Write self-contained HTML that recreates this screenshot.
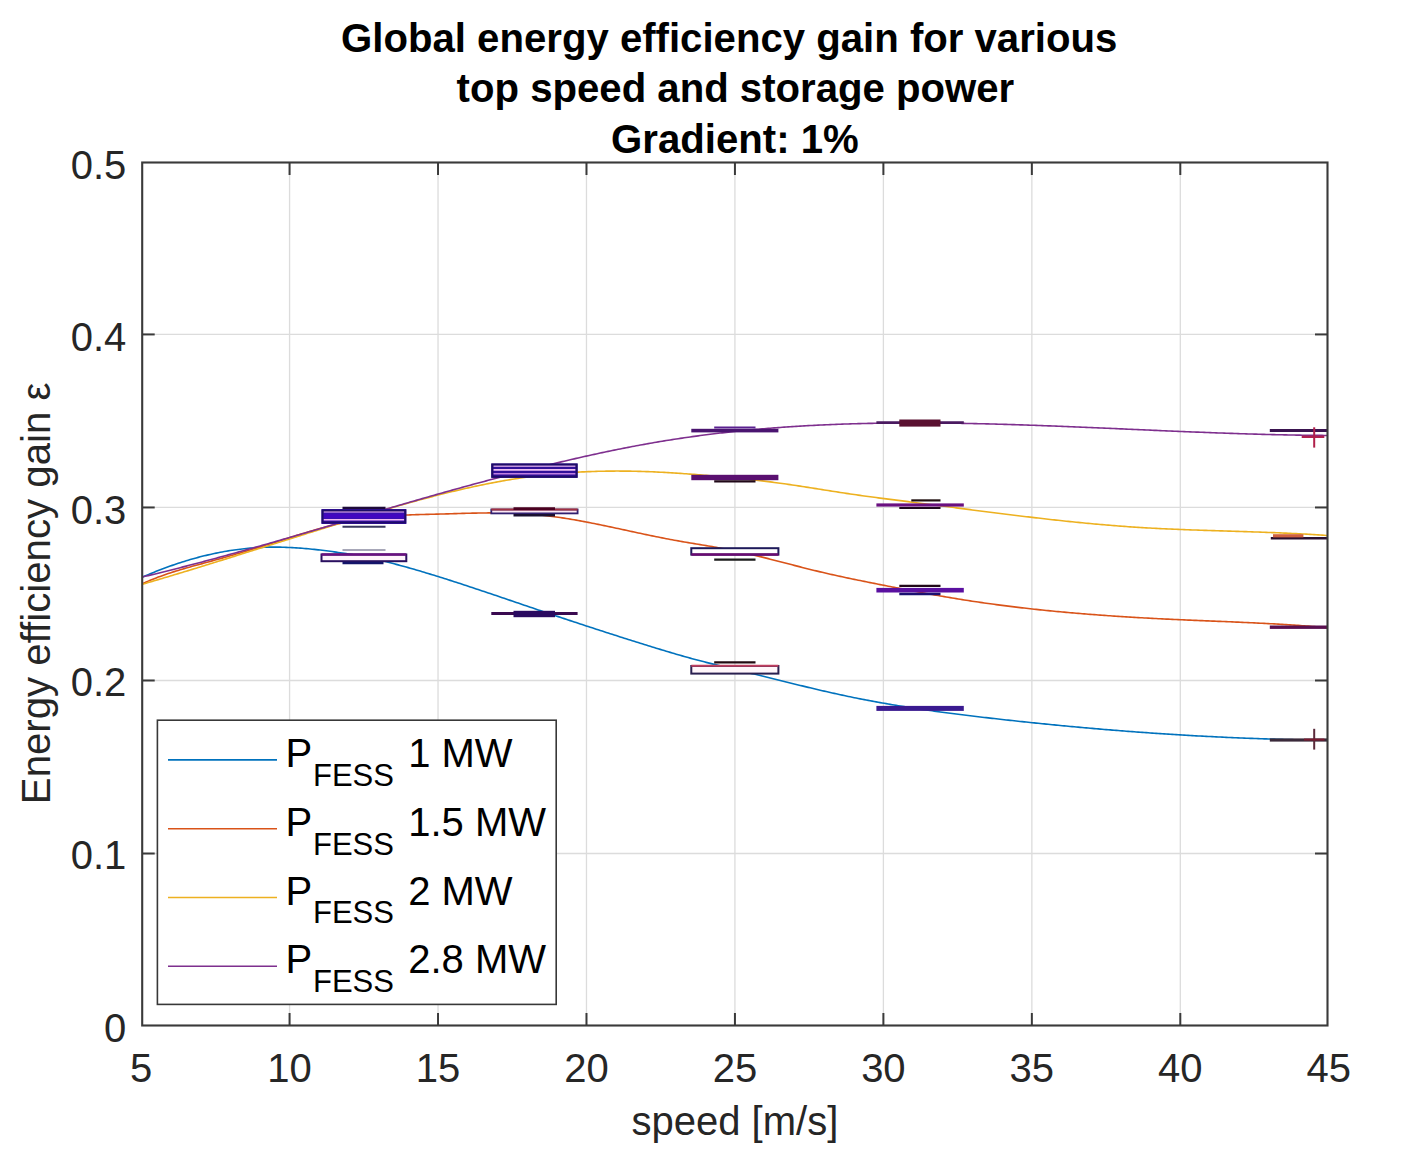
<!DOCTYPE html>
<html><head><meta charset="utf-8"><title>Global energy efficiency gain</title>
<style>html,body{margin:0;padding:0;background:#fff;width:1418px;height:1155px;overflow:hidden;position:relative}</style>
</head><body>
<svg width="1418" height="1155" viewBox="0 0 1418 1155" style="position:absolute;left:0;top:0"><rect x="0" y="0" width="1418" height="1155" fill="#ffffff"/><g stroke="#dcdcdc" stroke-width="1.3"><line x1="289.57" y1="162.50" x2="289.57" y2="1025.50"/><line x1="438.03" y1="162.50" x2="438.03" y2="1025.50"/><line x1="586.48" y1="162.50" x2="586.48" y2="1025.50"/><line x1="734.93" y1="162.50" x2="734.93" y2="1025.50"/><line x1="883.39" y1="162.50" x2="883.39" y2="1025.50"/><line x1="1031.85" y1="162.50" x2="1031.85" y2="1025.50"/><line x1="1180.30" y1="162.50" x2="1180.30" y2="1025.50"/><line x1="142.20" y1="853.52" x2="1327.50" y2="853.52"/><line x1="142.20" y1="680.49" x2="1327.50" y2="680.49"/><line x1="142.20" y1="507.46" x2="1327.50" y2="507.46"/><line x1="142.20" y1="334.43" x2="1327.50" y2="334.43"/></g><g fill="none" stroke-width="1.6" stroke-linejoin="round"><path d="M142.2,577.21 L144.2,576.34 L146.2,575.48 L148.2,574.63 L150.2,573.79 L152.2,572.97 L154.2,572.15 L156.2,571.35 L158.2,570.56 L160.2,569.79 L162.2,569.02 L164.2,568.27 L166.2,567.53 L168.2,566.80 L170.2,566.08 L172.2,565.38 L174.2,564.69 L176.2,564.01 L178.2,563.34 L180.2,562.69 L182.2,562.04 L184.2,561.41 L186.2,560.80 L188.2,560.19 L190.2,559.60 L192.2,559.03 L194.2,558.46 L196.2,557.91 L198.2,557.37 L200.2,556.84 L202.2,556.33 L204.2,555.83 L206.2,555.35 L208.2,554.87 L210.2,554.41 L212.2,553.97 L214.2,553.54 L216.2,553.12 L218.2,552.71 L220.2,552.32 L222.2,551.94 L224.2,551.58 L226.2,551.23 L228.2,550.89 L230.2,550.57 L232.2,550.26 L234.2,549.97 L236.2,549.68 L238.2,549.42 L240.2,549.17 L242.2,548.93 L244.2,548.71 L246.2,548.50 L248.2,548.30 L250.2,548.12 L252.2,547.96 L254.2,547.81 L256.2,547.67 L258.2,547.55 L260.2,547.44 L262.2,547.35 L264.2,547.27 L266.2,547.21 L268.2,547.16 L270.2,547.13 L272.2,547.11 L274.2,547.11 L276.2,547.12 L278.2,547.14 L280.2,547.17 L282.2,547.22 L284.2,547.28 L286.2,547.35 L288.2,547.43 L290.2,547.52 L292.2,547.63 L294.2,547.74 L296.2,547.87 L298.2,548.00 L300.2,548.15 L302.2,548.31 L304.2,548.47 L306.2,548.64 L308.2,548.82 L310.2,549.01 L312.2,549.21 L314.2,549.42 L316.2,549.63 L318.2,549.85 L320.2,550.08 L322.2,550.31 L324.2,550.55 L326.2,550.80 L328.2,551.05 L330.2,551.31 L332.2,551.58 L334.2,551.85 L336.2,552.13 L338.2,552.42 L340.2,552.71 L342.2,553.02 L344.2,553.33 L346.2,553.64 L348.2,553.97 L350.2,554.30 L352.2,554.65 L354.2,555.00 L356.2,555.36 L358.2,555.73 L360.2,556.10 L362.2,556.49 L364.2,556.89 L366.2,557.29 L368.2,557.71 L370.2,558.13 L372.2,558.56 L374.2,559.00 L376.2,559.45 L378.2,559.91 L380.2,560.37 L382.2,560.85 L384.2,561.33 L386.2,561.81 L388.2,562.31 L390.2,562.81 L392.2,563.32 L394.2,563.84 L396.2,564.36 L398.2,564.89 L400.2,565.43 L402.2,565.97 L404.2,566.52 L406.2,567.08 L408.2,567.64 L410.2,568.20 L412.2,568.77 L414.2,569.35 L416.2,569.93 L418.2,570.51 L420.2,571.10 L422.2,571.70 L424.2,572.29 L426.2,572.90 L428.2,573.50 L430.2,574.11 L432.2,574.73 L434.2,575.34 L436.2,575.96 L438.2,576.58 L440.2,577.21 L442.2,577.84 L444.2,578.47 L446.2,579.10 L448.2,579.74 L450.2,580.38 L452.2,581.02 L454.2,581.67 L456.2,582.31 L458.2,582.96 L460.2,583.61 L462.2,584.26 L464.2,584.92 L466.2,585.58 L468.2,586.24 L470.2,586.90 L472.2,587.56 L474.2,588.22 L476.2,588.89 L478.2,589.56 L480.2,590.22 L482.2,590.89 L484.2,591.56 L486.2,592.24 L488.2,592.91 L490.2,593.59 L492.2,594.26 L494.2,594.94 L496.2,595.61 L498.2,596.29 L500.2,596.97 L502.2,597.65 L504.2,598.33 L506.2,599.01 L508.2,599.69 L510.2,600.37 L512.2,601.05 L514.2,601.74 L516.2,602.42 L518.2,603.10 L520.2,603.78 L522.2,604.46 L524.2,605.14 L526.2,605.82 L528.2,606.50 L530.2,607.18 L532.2,607.86 L534.2,608.54 L536.2,609.22 L538.2,609.90 L540.2,610.57 L542.2,611.25 L544.2,611.93 L546.2,612.60 L548.2,613.27 L550.2,613.95 L552.2,614.62 L554.2,615.29 L556.2,615.96 L558.2,616.63 L560.2,617.30 L562.2,617.96 L564.2,618.63 L566.2,619.30 L568.2,619.96 L570.2,620.63 L572.2,621.29 L574.2,621.95 L576.2,622.61 L578.2,623.27 L580.2,623.93 L582.2,624.59 L584.2,625.25 L586.2,625.90 L588.2,626.56 L590.2,627.21 L592.2,627.86 L594.2,628.52 L596.2,629.17 L598.2,629.82 L600.2,630.46 L602.2,631.11 L604.2,631.76 L606.2,632.40 L608.2,633.05 L610.2,633.69 L612.2,634.33 L614.2,634.97 L616.2,635.61 L618.2,636.25 L620.2,636.89 L622.2,637.53 L624.2,638.16 L626.2,638.79 L628.2,639.43 L630.2,640.06 L632.2,640.69 L634.2,641.32 L636.2,641.94 L638.2,642.57 L640.2,643.20 L642.2,643.82 L644.2,644.44 L646.2,645.06 L648.2,645.68 L650.2,646.30 L652.2,646.92 L654.2,647.53 L656.2,648.15 L658.2,648.76 L660.2,649.37 L662.2,649.98 L664.2,650.58 L666.2,651.18 L668.2,651.78 L670.2,652.38 L672.2,652.97 L674.2,653.56 L676.2,654.15 L678.2,654.73 L680.2,655.31 L682.2,655.88 L684.2,656.45 L686.2,657.01 L688.2,657.57 L690.2,658.13 L692.2,658.68 L694.2,659.22 L696.2,659.76 L698.2,660.29 L700.2,660.81 L702.2,661.33 L704.2,661.85 L706.2,662.36 L708.2,662.87 L710.2,663.38 L712.2,663.88 L714.2,664.38 L716.2,664.87 L718.2,665.36 L720.2,665.85 L722.2,666.34 L724.2,666.83 L726.2,667.31 L728.2,667.80 L730.2,668.28 L732.2,668.77 L734.2,669.25 L736.2,669.73 L738.2,670.21 L740.2,670.70 L742.2,671.18 L744.2,671.66 L746.2,672.15 L748.2,672.63 L750.2,673.12 L752.2,673.61 L754.2,674.09 L756.2,674.58 L758.2,675.07 L760.2,675.56 L762.2,676.05 L764.2,676.54 L766.2,677.03 L768.2,677.53 L770.2,678.02 L772.2,678.51 L774.2,679.01 L776.2,679.50 L778.2,680.00 L780.2,680.49 L782.2,680.99 L784.2,681.48 L786.2,681.98 L788.2,682.47 L790.2,682.96 L792.2,683.46 L794.2,683.95 L796.2,684.44 L798.2,684.93 L800.2,685.42 L802.2,685.90 L804.2,686.39 L806.2,686.87 L808.2,687.35 L810.2,687.83 L812.2,688.31 L814.2,688.79 L816.2,689.26 L818.2,689.73 L820.2,690.20 L822.2,690.66 L824.2,691.13 L826.2,691.59 L828.2,692.04 L830.2,692.50 L832.2,692.95 L834.2,693.40 L836.2,693.84 L838.2,694.28 L840.2,694.72 L842.2,695.15 L844.2,695.58 L846.2,696.00 L848.2,696.42 L850.2,696.84 L852.2,697.25 L854.2,697.66 L856.2,698.06 L858.2,698.46 L860.2,698.86 L862.2,699.25 L864.2,699.64 L866.2,700.02 L868.2,700.40 L870.2,700.78 L872.2,701.15 L874.2,701.52 L876.2,701.89 L878.2,702.25 L880.2,702.61 L882.2,702.96 L884.2,703.31 L886.2,703.66 L888.2,704.00 L890.2,704.34 L892.2,704.68 L894.2,705.02 L896.2,705.35 L898.2,705.68 L900.2,706.00 L902.2,706.32 L904.2,706.64 L906.2,706.96 L908.2,707.27 L910.2,707.58 L912.2,707.89 L914.2,708.20 L916.2,708.50 L918.2,708.80 L920.2,709.09 L922.2,709.39 L924.2,709.68 L926.2,709.97 L928.2,710.25 L930.2,710.54 L932.2,710.82 L934.2,711.10 L936.2,711.37 L938.2,711.65 L940.2,711.92 L942.2,712.19 L944.2,712.46 L946.2,712.72 L948.2,712.99 L950.2,713.25 L952.2,713.51 L954.2,713.76 L956.2,714.02 L958.2,714.27 L960.2,714.53 L962.2,714.78 L964.2,715.02 L966.2,715.27 L968.2,715.52 L970.2,715.76 L972.2,716.00 L974.2,716.24 L976.2,716.48 L978.2,716.72 L980.2,716.95 L982.2,717.19 L984.2,717.42 L986.2,717.65 L988.2,717.89 L990.2,718.12 L992.2,718.34 L994.2,718.57 L996.2,718.80 L998.2,719.02 L1000.2,719.25 L1002.2,719.47 L1004.2,719.69 L1006.2,719.92 L1008.2,720.14 L1010.2,720.36 L1012.2,720.57 L1014.2,720.79 L1016.2,721.01 L1018.2,721.22 L1020.2,721.44 L1022.2,721.65 L1024.2,721.86 L1026.2,722.07 L1028.2,722.28 L1030.2,722.49 L1032.2,722.70 L1034.2,722.90 L1036.2,723.11 L1038.2,723.31 L1040.2,723.52 L1042.2,723.72 L1044.2,723.92 L1046.2,724.12 L1048.2,724.32 L1050.2,724.52 L1052.2,724.71 L1054.2,724.91 L1056.2,725.10 L1058.2,725.30 L1060.2,725.49 L1062.2,725.68 L1064.2,725.87 L1066.2,726.06 L1068.2,726.25 L1070.2,726.43 L1072.2,726.62 L1074.2,726.80 L1076.2,726.98 L1078.2,727.17 L1080.2,727.35 L1082.2,727.53 L1084.2,727.71 L1086.2,727.88 L1088.2,728.06 L1090.2,728.24 L1092.2,728.41 L1094.2,728.58 L1096.2,728.75 L1098.2,728.92 L1100.2,729.09 L1102.2,729.26 L1104.2,729.43 L1106.2,729.60 L1108.2,729.76 L1110.2,729.92 L1112.2,730.09 L1114.2,730.25 L1116.2,730.41 L1118.2,730.57 L1120.2,730.72 L1122.2,730.88 L1124.2,731.04 L1126.2,731.19 L1128.2,731.34 L1130.2,731.50 L1132.2,731.65 L1134.2,731.80 L1136.2,731.94 L1138.2,732.09 L1140.2,732.24 L1142.2,732.38 L1144.2,732.53 L1146.2,732.67 L1148.2,732.81 L1150.2,732.95 L1152.2,733.09 L1154.2,733.22 L1156.2,733.36 L1158.2,733.50 L1160.2,733.63 L1162.2,733.76 L1164.2,733.89 L1166.2,734.02 L1168.2,734.15 L1170.2,734.28 L1172.2,734.41 L1174.2,734.53 L1176.2,734.66 L1178.2,734.78 L1180.2,734.90 L1182.2,735.02 L1184.2,735.14 L1186.2,735.26 L1188.2,735.37 L1190.2,735.49 L1192.2,735.60 L1194.2,735.71 L1196.2,735.83 L1198.2,735.94 L1200.2,736.05 L1202.2,736.15 L1204.2,736.26 L1206.2,736.36 L1208.2,736.47 L1210.2,736.57 L1212.2,736.67 L1214.2,736.77 L1216.2,736.87 L1218.2,736.97 L1220.2,737.06 L1222.2,737.16 L1224.2,737.25 L1226.2,737.34 L1228.2,737.44 L1230.2,737.52 L1232.2,737.61 L1234.2,737.70 L1236.2,737.79 L1238.2,737.87 L1240.2,737.95 L1242.2,738.03 L1244.2,738.12 L1246.2,738.19 L1248.2,738.27 L1250.2,738.35 L1252.2,738.42 L1254.2,738.50 L1256.2,738.57 L1258.2,738.64 L1260.2,738.71 L1262.2,738.78 L1264.2,738.85 L1266.2,738.91 L1268.2,738.98 L1270.2,739.04 L1272.2,739.10 L1274.2,739.16 L1276.2,739.22 L1278.2,739.28 L1280.2,739.34 L1282.2,739.39 L1284.2,739.44 L1286.2,739.50 L1288.2,739.55 L1290.2,739.60 L1292.2,739.65 L1294.2,739.69 L1296.2,739.74 L1298.2,739.78 L1300.2,739.82 L1302.2,739.87 L1304.2,739.91 L1306.2,739.94 L1308.2,739.98 L1310.2,740.02 L1312.2,740.05 L1314.2,740.09 L1316.2,740.12 L1318.2,740.15 L1320.2,740.18 L1322.2,740.20 L1324.2,740.23 L1326.2,740.25 L1327.5,740.27" stroke="#0072BD"/><path d="M142.2,583.79 L144.2,582.88 L146.2,581.99 L148.2,581.13 L150.2,580.28 L152.2,579.46 L154.2,578.66 L156.2,577.88 L158.2,577.12 L160.2,576.38 L162.2,575.66 L164.2,574.95 L166.2,574.26 L168.2,573.58 L170.2,572.92 L172.2,572.27 L174.2,571.63 L176.2,571.01 L178.2,570.39 L180.2,569.79 L182.2,569.20 L184.2,568.61 L186.2,568.04 L188.2,567.47 L190.2,566.90 L192.2,566.35 L194.2,565.79 L196.2,565.24 L198.2,564.70 L200.2,564.15 L202.2,563.61 L204.2,563.07 L206.2,562.52 L208.2,561.98 L210.2,561.44 L212.2,560.89 L214.2,560.34 L216.2,559.78 L218.2,559.23 L220.2,558.67 L222.2,558.11 L224.2,557.54 L226.2,556.98 L228.2,556.41 L230.2,555.84 L232.2,555.26 L234.2,554.68 L236.2,554.10 L238.2,553.52 L240.2,552.93 L242.2,552.34 L244.2,551.75 L246.2,551.16 L248.2,550.56 L250.2,549.96 L252.2,549.35 L254.2,548.75 L256.2,548.14 L258.2,547.53 L260.2,546.91 L262.2,546.30 L264.2,545.68 L266.2,545.05 L268.2,544.43 L270.2,543.80 L272.2,543.17 L274.2,542.54 L276.2,541.91 L278.2,541.28 L280.2,540.64 L282.2,540.01 L284.2,539.38 L286.2,538.75 L288.2,538.12 L290.2,537.49 L292.2,536.86 L294.2,536.24 L296.2,535.62 L298.2,535.00 L300.2,534.39 L302.2,533.78 L304.2,533.17 L306.2,532.57 L308.2,531.97 L310.2,531.38 L312.2,530.79 L314.2,530.21 L316.2,529.64 L318.2,529.07 L320.2,528.51 L322.2,527.95 L324.2,527.41 L326.2,526.87 L328.2,526.34 L330.2,525.82 L332.2,525.31 L334.2,524.81 L336.2,524.32 L338.2,523.84 L340.2,523.37 L342.2,522.91 L344.2,522.47 L346.2,522.03 L348.2,521.61 L350.2,521.20 L352.2,520.80 L354.2,520.42 L356.2,520.05 L358.2,519.69 L360.2,519.35 L362.2,519.02 L364.2,518.71 L366.2,518.41 L368.2,518.13 L370.2,517.87 L372.2,517.61 L374.2,517.37 L376.2,517.15 L378.2,516.93 L380.2,516.73 L382.2,516.54 L384.2,516.36 L386.2,516.20 L388.2,516.04 L390.2,515.89 L392.2,515.75 L394.2,515.62 L396.2,515.50 L398.2,515.39 L400.2,515.28 L402.2,515.19 L404.2,515.09 L406.2,515.01 L408.2,514.93 L410.2,514.86 L412.2,514.79 L414.2,514.72 L416.2,514.66 L418.2,514.60 L420.2,514.54 L422.2,514.49 L424.2,514.44 L426.2,514.39 L428.2,514.34 L430.2,514.30 L432.2,514.25 L434.2,514.20 L436.2,514.15 L438.2,514.10 L440.2,514.05 L442.2,514.00 L444.2,513.94 L446.2,513.88 L448.2,513.83 L450.2,513.77 L452.2,513.71 L454.2,513.65 L456.2,513.59 L458.2,513.54 L460.2,513.48 L462.2,513.42 L464.2,513.37 L466.2,513.32 L468.2,513.27 L470.2,513.22 L472.2,513.17 L474.2,513.13 L476.2,513.09 L478.2,513.05 L480.2,513.01 L482.2,512.98 L484.2,512.96 L486.2,512.94 L488.2,512.92 L490.2,512.91 L492.2,512.90 L494.2,512.90 L496.2,512.90 L498.2,512.91 L500.2,512.93 L502.2,512.95 L504.2,512.98 L506.2,513.02 L508.2,513.06 L510.2,513.11 L512.2,513.17 L514.2,513.24 L516.2,513.32 L518.2,513.41 L520.2,513.50 L522.2,513.60 L524.2,513.72 L526.2,513.84 L528.2,513.98 L530.2,514.12 L532.2,514.28 L534.2,514.44 L536.2,514.62 L538.2,514.81 L540.2,515.01 L542.2,515.22 L544.2,515.44 L546.2,515.67 L548.2,515.91 L550.2,516.16 L552.2,516.42 L554.2,516.68 L556.2,516.96 L558.2,517.25 L560.2,517.54 L562.2,517.84 L564.2,518.15 L566.2,518.47 L568.2,518.79 L570.2,519.12 L572.2,519.46 L574.2,519.81 L576.2,520.16 L578.2,520.52 L580.2,520.88 L582.2,521.25 L584.2,521.63 L586.2,522.01 L588.2,522.39 L590.2,522.78 L592.2,523.18 L594.2,523.57 L596.2,523.98 L598.2,524.38 L600.2,524.79 L602.2,525.20 L604.2,525.62 L606.2,526.04 L608.2,526.46 L610.2,526.88 L612.2,527.31 L614.2,527.74 L616.2,528.16 L618.2,528.59 L620.2,529.03 L622.2,529.46 L624.2,529.89 L626.2,530.32 L628.2,530.75 L630.2,531.19 L632.2,531.62 L634.2,532.05 L636.2,532.48 L638.2,532.91 L640.2,533.34 L642.2,533.77 L644.2,534.19 L646.2,534.61 L648.2,535.03 L650.2,535.45 L652.2,535.87 L654.2,536.28 L656.2,536.69 L658.2,537.09 L660.2,537.49 L662.2,537.89 L664.2,538.28 L666.2,538.67 L668.2,539.05 L670.2,539.43 L672.2,539.81 L674.2,540.17 L676.2,540.54 L678.2,540.89 L680.2,541.25 L682.2,541.60 L684.2,541.94 L686.2,542.28 L688.2,542.62 L690.2,542.96 L692.2,543.30 L694.2,543.63 L696.2,543.96 L698.2,544.30 L700.2,544.63 L702.2,544.97 L704.2,545.30 L706.2,545.64 L708.2,545.98 L710.2,546.32 L712.2,546.66 L714.2,547.01 L716.2,547.36 L718.2,547.71 L720.2,548.07 L722.2,548.43 L724.2,548.80 L726.2,549.18 L728.2,549.56 L730.2,549.95 L732.2,550.35 L734.2,550.75 L736.2,551.16 L738.2,551.58 L740.2,552.01 L742.2,552.45 L744.2,552.89 L746.2,553.34 L748.2,553.80 L750.2,554.26 L752.2,554.73 L754.2,555.20 L756.2,555.68 L758.2,556.16 L760.2,556.65 L762.2,557.15 L764.2,557.64 L766.2,558.14 L768.2,558.65 L770.2,559.16 L772.2,559.67 L774.2,560.18 L776.2,560.69 L778.2,561.21 L780.2,561.73 L782.2,562.24 L784.2,562.76 L786.2,563.28 L788.2,563.80 L790.2,564.32 L792.2,564.84 L794.2,565.36 L796.2,565.87 L798.2,566.39 L800.2,566.90 L802.2,567.41 L804.2,567.92 L806.2,568.43 L808.2,568.93 L810.2,569.43 L812.2,569.92 L814.2,570.41 L816.2,570.90 L818.2,571.38 L820.2,571.86 L822.2,572.33 L824.2,572.80 L826.2,573.26 L828.2,573.72 L830.2,574.18 L832.2,574.63 L834.2,575.07 L836.2,575.52 L838.2,575.96 L840.2,576.39 L842.2,576.82 L844.2,577.25 L846.2,577.68 L848.2,578.10 L850.2,578.52 L852.2,578.94 L854.2,579.36 L856.2,579.77 L858.2,580.18 L860.2,580.59 L862.2,581.00 L864.2,581.40 L866.2,581.80 L868.2,582.21 L870.2,582.61 L872.2,583.00 L874.2,583.40 L876.2,583.80 L878.2,584.20 L880.2,584.59 L882.2,584.99 L884.2,585.38 L886.2,585.77 L888.2,586.17 L890.2,586.56 L892.2,586.95 L894.2,587.34 L896.2,587.73 L898.2,588.12 L900.2,588.51 L902.2,588.89 L904.2,589.28 L906.2,589.66 L908.2,590.05 L910.2,590.43 L912.2,590.81 L914.2,591.18 L916.2,591.56 L918.2,591.94 L920.2,592.31 L922.2,592.68 L924.2,593.05 L926.2,593.42 L928.2,593.79 L930.2,594.15 L932.2,594.51 L934.2,594.87 L936.2,595.23 L938.2,595.58 L940.2,595.93 L942.2,596.28 L944.2,596.63 L946.2,596.97 L948.2,597.31 L950.2,597.65 L952.2,597.99 L954.2,598.32 L956.2,598.65 L958.2,598.98 L960.2,599.30 L962.2,599.62 L964.2,599.94 L966.2,600.25 L968.2,600.57 L970.2,600.87 L972.2,601.18 L974.2,601.48 L976.2,601.78 L978.2,602.07 L980.2,602.37 L982.2,602.66 L984.2,602.94 L986.2,603.23 L988.2,603.51 L990.2,603.78 L992.2,604.06 L994.2,604.33 L996.2,604.60 L998.2,604.86 L1000.2,605.13 L1002.2,605.39 L1004.2,605.65 L1006.2,605.90 L1008.2,606.15 L1010.2,606.40 L1012.2,606.65 L1014.2,606.89 L1016.2,607.13 L1018.2,607.37 L1020.2,607.61 L1022.2,607.84 L1024.2,608.07 L1026.2,608.30 L1028.2,608.53 L1030.2,608.75 L1032.2,608.97 L1034.2,609.19 L1036.2,609.40 L1038.2,609.62 L1040.2,609.83 L1042.2,610.03 L1044.2,610.24 L1046.2,610.44 L1048.2,610.64 L1050.2,610.84 L1052.2,611.04 L1054.2,611.23 L1056.2,611.43 L1058.2,611.62 L1060.2,611.80 L1062.2,611.99 L1064.2,612.17 L1066.2,612.35 L1068.2,612.53 L1070.2,612.71 L1072.2,612.88 L1074.2,613.06 L1076.2,613.23 L1078.2,613.39 L1080.2,613.56 L1082.2,613.72 L1084.2,613.89 L1086.2,614.05 L1088.2,614.21 L1090.2,614.36 L1092.2,614.52 L1094.2,614.67 L1096.2,614.82 L1098.2,614.97 L1100.2,615.12 L1102.2,615.26 L1104.2,615.40 L1106.2,615.55 L1108.2,615.69 L1110.2,615.82 L1112.2,615.96 L1114.2,616.10 L1116.2,616.23 L1118.2,616.36 L1120.2,616.49 L1122.2,616.62 L1124.2,616.75 L1126.2,616.87 L1128.2,616.99 L1130.2,617.12 L1132.2,617.24 L1134.2,617.36 L1136.2,617.47 L1138.2,617.59 L1140.2,617.71 L1142.2,617.82 L1144.2,617.93 L1146.2,618.04 L1148.2,618.15 L1150.2,618.26 L1152.2,618.36 L1154.2,618.47 L1156.2,618.57 L1158.2,618.68 L1160.2,618.78 L1162.2,618.88 L1164.2,618.98 L1166.2,619.08 L1168.2,619.17 L1170.2,619.27 L1172.2,619.36 L1174.2,619.46 L1176.2,619.55 L1178.2,619.64 L1180.2,619.73 L1182.2,619.82 L1184.2,619.91 L1186.2,620.00 L1188.2,620.08 L1190.2,620.17 L1192.2,620.26 L1194.2,620.34 L1196.2,620.42 L1198.2,620.51 L1200.2,620.59 L1202.2,620.67 L1204.2,620.76 L1206.2,620.84 L1208.2,620.92 L1210.2,621.00 L1212.2,621.08 L1214.2,621.16 L1216.2,621.25 L1218.2,621.33 L1220.2,621.41 L1222.2,621.49 L1224.2,621.57 L1226.2,621.66 L1228.2,621.74 L1230.2,621.82 L1232.2,621.91 L1234.2,621.99 L1236.2,622.08 L1238.2,622.16 L1240.2,622.25 L1242.2,622.34 L1244.2,622.43 L1246.2,622.52 L1248.2,622.61 L1250.2,622.70 L1252.2,622.79 L1254.2,622.89 L1256.2,622.98 L1258.2,623.08 L1260.2,623.18 L1262.2,623.28 L1264.2,623.38 L1266.2,623.48 L1268.2,623.59 L1270.2,623.69 L1272.2,623.80 L1274.2,623.91 L1276.2,624.03 L1278.2,624.14 L1280.2,624.26 L1282.2,624.37 L1284.2,624.50 L1286.2,624.62 L1288.2,624.74 L1290.2,624.87 L1292.2,625.00 L1294.2,625.13 L1296.2,625.27 L1298.2,625.41 L1300.2,625.55 L1302.2,625.69 L1304.2,625.84 L1306.2,625.99 L1308.2,626.14 L1310.2,626.29 L1312.2,626.45 L1314.2,626.61 L1316.2,626.78 L1318.2,626.94 L1320.2,627.12 L1322.2,627.29 L1324.2,627.47 L1326.2,627.65 L1327.5,627.77" stroke="#D95319"/><path d="M142.2,584.31 L144.2,583.73 L146.2,583.15 L148.2,582.56 L150.2,581.98 L152.2,581.39 L154.2,580.80 L156.2,580.21 L158.2,579.62 L160.2,579.03 L162.2,578.44 L164.2,577.84 L166.2,577.25 L168.2,576.65 L170.2,576.05 L172.2,575.45 L174.2,574.85 L176.2,574.24 L178.2,573.64 L180.2,573.04 L182.2,572.43 L184.2,571.82 L186.2,571.22 L188.2,570.61 L190.2,570.00 L192.2,569.38 L194.2,568.77 L196.2,568.16 L198.2,567.55 L200.2,566.93 L202.2,566.32 L204.2,565.70 L206.2,565.08 L208.2,564.46 L210.2,563.84 L212.2,563.22 L214.2,562.60 L216.2,561.98 L218.2,561.36 L220.2,560.74 L222.2,560.12 L224.2,559.49 L226.2,558.87 L228.2,558.24 L230.2,557.62 L232.2,556.99 L234.2,556.37 L236.2,555.74 L238.2,555.11 L240.2,554.49 L242.2,553.86 L244.2,553.23 L246.2,552.60 L248.2,551.98 L250.2,551.35 L252.2,550.72 L254.2,550.09 L256.2,549.46 L258.2,548.83 L260.2,548.20 L262.2,547.57 L264.2,546.94 L266.2,546.31 L268.2,545.68 L270.2,545.05 L272.2,544.42 L274.2,543.79 L276.2,543.16 L278.2,542.53 L280.2,541.90 L282.2,541.27 L284.2,540.64 L286.2,540.01 L288.2,539.38 L290.2,538.76 L292.2,538.13 L294.2,537.50 L296.2,536.87 L298.2,536.24 L300.2,535.62 L302.2,534.99 L304.2,534.37 L306.2,533.74 L308.2,533.11 L310.2,532.49 L312.2,531.87 L314.2,531.24 L316.2,530.62 L318.2,530.00 L320.2,529.37 L322.2,528.75 L324.2,528.13 L326.2,527.51 L328.2,526.89 L330.2,526.28 L332.2,525.66 L334.2,525.04 L336.2,524.42 L338.2,523.81 L340.2,523.20 L342.2,522.58 L344.2,521.97 L346.2,521.36 L348.2,520.75 L350.2,520.14 L352.2,519.53 L354.2,518.92 L356.2,518.32 L358.2,517.71 L360.2,517.11 L362.2,516.50 L364.2,515.90 L366.2,515.30 L368.2,514.70 L370.2,514.10 L372.2,513.51 L374.2,512.91 L376.2,512.32 L378.2,511.73 L380.2,511.14 L382.2,510.55 L384.2,509.96 L386.2,509.38 L388.2,508.80 L390.2,508.21 L392.2,507.64 L394.2,507.06 L396.2,506.49 L398.2,505.91 L400.2,505.34 L402.2,504.78 L404.2,504.21 L406.2,503.65 L408.2,503.09 L410.2,502.53 L412.2,501.98 L414.2,501.43 L416.2,500.88 L418.2,500.33 L420.2,499.79 L422.2,499.25 L424.2,498.72 L426.2,498.18 L428.2,497.65 L430.2,497.13 L432.2,496.61 L434.2,496.09 L436.2,495.57 L438.2,495.06 L440.2,494.55 L442.2,494.05 L444.2,493.55 L446.2,493.05 L448.2,492.56 L450.2,492.07 L452.2,491.58 L454.2,491.10 L456.2,490.63 L458.2,490.16 L460.2,489.69 L462.2,489.23 L464.2,488.77 L466.2,488.31 L468.2,487.86 L470.2,487.42 L472.2,486.98 L474.2,486.55 L476.2,486.12 L478.2,485.69 L480.2,485.27 L482.2,484.86 L484.2,484.45 L486.2,484.04 L488.2,483.65 L490.2,483.25 L492.2,482.86 L494.2,482.48 L496.2,482.11 L498.2,481.73 L500.2,481.37 L502.2,481.01 L504.2,480.66 L506.2,480.31 L508.2,479.97 L510.2,479.63 L512.2,479.30 L514.2,478.98 L516.2,478.66 L518.2,478.35 L520.2,478.05 L522.2,477.75 L524.2,477.46 L526.2,477.17 L528.2,476.90 L530.2,476.63 L532.2,476.36 L534.2,476.11 L536.2,475.85 L538.2,475.61 L540.2,475.38 L542.2,475.15 L544.2,474.92 L546.2,474.71 L548.2,474.50 L550.2,474.29 L552.2,474.10 L554.2,473.91 L556.2,473.73 L558.2,473.55 L560.2,473.38 L562.2,473.22 L564.2,473.06 L566.2,472.91 L568.2,472.76 L570.2,472.62 L572.2,472.49 L574.2,472.37 L576.2,472.25 L578.2,472.13 L580.2,472.03 L582.2,471.92 L584.2,471.83 L586.2,471.74 L588.2,471.65 L590.2,471.58 L592.2,471.50 L594.2,471.44 L596.2,471.38 L598.2,471.32 L600.2,471.27 L602.2,471.23 L604.2,471.19 L606.2,471.16 L608.2,471.13 L610.2,471.11 L612.2,471.09 L614.2,471.08 L616.2,471.07 L618.2,471.07 L620.2,471.08 L622.2,471.09 L624.2,471.10 L626.2,471.12 L628.2,471.14 L630.2,471.17 L632.2,471.21 L634.2,471.25 L636.2,471.29 L638.2,471.34 L640.2,471.40 L642.2,471.46 L644.2,471.52 L646.2,471.59 L648.2,471.66 L650.2,471.74 L652.2,471.82 L654.2,471.91 L656.2,472.00 L658.2,472.09 L660.2,472.19 L662.2,472.30 L664.2,472.40 L666.2,472.52 L668.2,472.63 L670.2,472.75 L672.2,472.88 L674.2,473.00 L676.2,473.13 L678.2,473.26 L680.2,473.40 L682.2,473.54 L684.2,473.68 L686.2,473.82 L688.2,473.97 L690.2,474.11 L692.2,474.26 L694.2,474.41 L696.2,474.57 L698.2,474.72 L700.2,474.88 L702.2,475.03 L704.2,475.19 L706.2,475.35 L708.2,475.52 L710.2,475.68 L712.2,475.85 L714.2,476.02 L716.2,476.19 L718.2,476.37 L720.2,476.55 L722.2,476.73 L724.2,476.91 L726.2,477.09 L728.2,477.28 L730.2,477.47 L732.2,477.66 L734.2,477.86 L736.2,478.05 L738.2,478.26 L740.2,478.46 L742.2,478.67 L744.2,478.88 L746.2,479.09 L748.2,479.31 L750.2,479.52 L752.2,479.75 L754.2,479.97 L756.2,480.20 L758.2,480.43 L760.2,480.67 L762.2,480.91 L764.2,481.15 L766.2,481.40 L768.2,481.65 L770.2,481.91 L772.2,482.16 L774.2,482.43 L776.2,482.69 L778.2,482.96 L780.2,483.24 L782.2,483.51 L784.2,483.80 L786.2,484.08 L788.2,484.37 L790.2,484.66 L792.2,484.96 L794.2,485.25 L796.2,485.55 L798.2,485.86 L800.2,486.16 L802.2,486.47 L804.2,486.78 L806.2,487.09 L808.2,487.40 L810.2,487.71 L812.2,488.02 L814.2,488.34 L816.2,488.66 L818.2,488.97 L820.2,489.29 L822.2,489.60 L824.2,489.92 L826.2,490.24 L828.2,490.55 L830.2,490.87 L832.2,491.18 L834.2,491.50 L836.2,491.81 L838.2,492.12 L840.2,492.43 L842.2,492.74 L844.2,493.04 L846.2,493.35 L848.2,493.65 L850.2,493.95 L852.2,494.24 L854.2,494.53 L856.2,494.82 L858.2,495.11 L860.2,495.39 L862.2,495.68 L864.2,495.95 L866.2,496.23 L868.2,496.50 L870.2,496.77 L872.2,497.04 L874.2,497.31 L876.2,497.57 L878.2,497.84 L880.2,498.10 L882.2,498.36 L884.2,498.62 L886.2,498.87 L888.2,499.13 L890.2,499.39 L892.2,499.64 L894.2,499.89 L896.2,500.15 L898.2,500.40 L900.2,500.65 L902.2,500.91 L904.2,501.16 L906.2,501.41 L908.2,501.66 L910.2,501.92 L912.2,502.17 L914.2,502.42 L916.2,502.68 L918.2,502.93 L920.2,503.19 L922.2,503.44 L924.2,503.70 L926.2,503.96 L928.2,504.21 L930.2,504.47 L932.2,504.73 L934.2,504.99 L936.2,505.25 L938.2,505.51 L940.2,505.77 L942.2,506.03 L944.2,506.28 L946.2,506.54 L948.2,506.80 L950.2,507.06 L952.2,507.32 L954.2,507.58 L956.2,507.84 L958.2,508.10 L960.2,508.36 L962.2,508.62 L964.2,508.88 L966.2,509.14 L968.2,509.40 L970.2,509.66 L972.2,509.92 L974.2,510.17 L976.2,510.43 L978.2,510.69 L980.2,510.94 L982.2,511.20 L984.2,511.46 L986.2,511.71 L988.2,511.97 L990.2,512.22 L992.2,512.48 L994.2,512.73 L996.2,512.98 L998.2,513.23 L1000.2,513.48 L1002.2,513.74 L1004.2,513.98 L1006.2,514.23 L1008.2,514.48 L1010.2,514.73 L1012.2,514.98 L1014.2,515.22 L1016.2,515.47 L1018.2,515.71 L1020.2,515.95 L1022.2,516.19 L1024.2,516.43 L1026.2,516.67 L1028.2,516.91 L1030.2,517.15 L1032.2,517.38 L1034.2,517.62 L1036.2,517.85 L1038.2,518.08 L1040.2,518.31 L1042.2,518.54 L1044.2,518.77 L1046.2,519.00 L1048.2,519.22 L1050.2,519.44 L1052.2,519.67 L1054.2,519.89 L1056.2,520.11 L1058.2,520.32 L1060.2,520.54 L1062.2,520.75 L1064.2,520.97 L1066.2,521.18 L1068.2,521.39 L1070.2,521.59 L1072.2,521.80 L1074.2,522.00 L1076.2,522.20 L1078.2,522.40 L1080.2,522.60 L1082.2,522.80 L1084.2,522.99 L1086.2,523.18 L1088.2,523.37 L1090.2,523.56 L1092.2,523.74 L1094.2,523.93 L1096.2,524.11 L1098.2,524.29 L1100.2,524.46 L1102.2,524.64 L1104.2,524.81 L1106.2,524.98 L1108.2,525.15 L1110.2,525.31 L1112.2,525.48 L1114.2,525.64 L1116.2,525.79 L1118.2,525.95 L1120.2,526.10 L1122.2,526.25 L1124.2,526.40 L1126.2,526.55 L1128.2,526.69 L1130.2,526.83 L1132.2,526.96 L1134.2,527.10 L1136.2,527.23 L1138.2,527.36 L1140.2,527.48 L1142.2,527.61 L1144.2,527.73 L1146.2,527.84 L1148.2,527.96 L1150.2,528.07 L1152.2,528.18 L1154.2,528.29 L1156.2,528.39 L1158.2,528.49 L1160.2,528.59 L1162.2,528.69 L1164.2,528.79 L1166.2,528.88 L1168.2,528.97 L1170.2,529.06 L1172.2,529.15 L1174.2,529.23 L1176.2,529.32 L1178.2,529.40 L1180.2,529.48 L1182.2,529.56 L1184.2,529.64 L1186.2,529.71 L1188.2,529.79 L1190.2,529.86 L1192.2,529.93 L1194.2,530.00 L1196.2,530.07 L1198.2,530.14 L1200.2,530.21 L1202.2,530.28 L1204.2,530.35 L1206.2,530.41 L1208.2,530.48 L1210.2,530.54 L1212.2,530.60 L1214.2,530.67 L1216.2,530.73 L1218.2,530.79 L1220.2,530.85 L1222.2,530.92 L1224.2,530.98 L1226.2,531.04 L1228.2,531.10 L1230.2,531.16 L1232.2,531.22 L1234.2,531.29 L1236.2,531.35 L1238.2,531.41 L1240.2,531.47 L1242.2,531.54 L1244.2,531.60 L1246.2,531.66 L1248.2,531.73 L1250.2,531.79 L1252.2,531.86 L1254.2,531.93 L1256.2,532.00 L1258.2,532.06 L1260.2,532.13 L1262.2,532.21 L1264.2,532.28 L1266.2,532.35 L1268.2,532.43 L1270.2,532.50 L1272.2,532.58 L1274.2,532.66 L1276.2,532.74 L1278.2,532.82 L1280.2,532.90 L1282.2,532.99 L1284.2,533.08 L1286.2,533.16 L1288.2,533.26 L1290.2,533.35 L1292.2,533.44 L1294.2,533.54 L1296.2,533.64 L1298.2,533.74 L1300.2,533.85 L1302.2,533.95 L1304.2,534.06 L1306.2,534.17 L1308.2,534.29 L1310.2,534.40 L1312.2,534.52 L1314.2,534.64 L1316.2,534.77 L1318.2,534.90 L1320.2,535.03 L1322.2,535.16 L1324.2,535.30 L1326.2,535.44 L1327.5,535.53" stroke="#EDB120"/><path d="M142.2,577.05 L144.2,576.57 L146.2,576.09 L148.2,575.61 L150.2,575.13 L152.2,574.65 L154.2,574.16 L156.2,573.67 L158.2,573.18 L160.2,572.69 L162.2,572.19 L164.2,571.70 L166.2,571.20 L168.2,570.70 L170.2,570.20 L172.2,569.69 L174.2,569.19 L176.2,568.68 L178.2,568.17 L180.2,567.66 L182.2,567.14 L184.2,566.63 L186.2,566.11 L188.2,565.59 L190.2,565.07 L192.2,564.55 L194.2,564.03 L196.2,563.50 L198.2,562.97 L200.2,562.44 L202.2,561.91 L204.2,561.38 L206.2,560.85 L208.2,560.31 L210.2,559.78 L212.2,559.24 L214.2,558.70 L216.2,558.16 L218.2,557.62 L220.2,557.07 L222.2,556.53 L224.2,555.98 L226.2,555.44 L228.2,554.89 L230.2,554.34 L232.2,553.79 L234.2,553.23 L236.2,552.68 L238.2,552.12 L240.2,551.57 L242.2,551.01 L244.2,550.45 L246.2,549.89 L248.2,549.33 L250.2,548.77 L252.2,548.20 L254.2,547.64 L256.2,547.07 L258.2,546.51 L260.2,545.94 L262.2,545.37 L264.2,544.80 L266.2,544.23 L268.2,543.66 L270.2,543.09 L272.2,542.52 L274.2,541.94 L276.2,541.37 L278.2,540.79 L280.2,540.22 L282.2,539.64 L284.2,539.06 L286.2,538.49 L288.2,537.91 L290.2,537.33 L292.2,536.75 L294.2,536.17 L296.2,535.58 L298.2,535.00 L300.2,534.42 L302.2,533.84 L304.2,533.25 L306.2,532.67 L308.2,532.08 L310.2,531.50 L312.2,530.91 L314.2,530.33 L316.2,529.74 L318.2,529.15 L320.2,528.56 L322.2,527.98 L324.2,527.39 L326.2,526.80 L328.2,526.21 L330.2,525.62 L332.2,525.03 L334.2,524.44 L336.2,523.85 L338.2,523.26 L340.2,522.67 L342.2,522.08 L344.2,521.49 L346.2,520.90 L348.2,520.31 L350.2,519.72 L352.2,519.13 L354.2,518.54 L356.2,517.95 L358.2,517.36 L360.2,516.77 L362.2,516.18 L364.2,515.59 L366.2,515.00 L368.2,514.41 L370.2,513.82 L372.2,513.23 L374.2,512.64 L376.2,512.05 L378.2,511.46 L380.2,510.87 L382.2,510.28 L384.2,509.69 L386.2,509.10 L388.2,508.52 L390.2,507.93 L392.2,507.34 L394.2,506.76 L396.2,506.17 L398.2,505.59 L400.2,505.00 L402.2,504.42 L404.2,503.84 L406.2,503.26 L408.2,502.68 L410.2,502.09 L412.2,501.52 L414.2,500.94 L416.2,500.36 L418.2,499.78 L420.2,499.21 L422.2,498.63 L424.2,498.06 L426.2,497.48 L428.2,496.91 L430.2,496.34 L432.2,495.77 L434.2,495.20 L436.2,494.64 L438.2,494.07 L440.2,493.50 L442.2,492.94 L444.2,492.38 L446.2,491.82 L448.2,491.26 L450.2,490.70 L452.2,490.14 L454.2,489.58 L456.2,489.03 L458.2,488.48 L460.2,487.92 L462.2,487.37 L464.2,486.82 L466.2,486.27 L468.2,485.73 L470.2,485.18 L472.2,484.64 L474.2,484.09 L476.2,483.55 L478.2,483.01 L480.2,482.47 L482.2,481.93 L484.2,481.40 L486.2,480.86 L488.2,480.33 L490.2,479.80 L492.2,479.27 L494.2,478.74 L496.2,478.21 L498.2,477.68 L500.2,477.16 L502.2,476.63 L504.2,476.11 L506.2,475.59 L508.2,475.07 L510.2,474.56 L512.2,474.04 L514.2,473.52 L516.2,473.01 L518.2,472.50 L520.2,471.99 L522.2,471.48 L524.2,470.97 L526.2,470.47 L528.2,469.96 L530.2,469.46 L532.2,468.96 L534.2,468.46 L536.2,467.96 L538.2,467.47 L540.2,466.97 L542.2,466.48 L544.2,465.99 L546.2,465.50 L548.2,465.01 L550.2,464.53 L552.2,464.04 L554.2,463.56 L556.2,463.08 L558.2,462.60 L560.2,462.13 L562.2,461.65 L564.2,461.18 L566.2,460.71 L568.2,460.24 L570.2,459.78 L572.2,459.31 L574.2,458.85 L576.2,458.39 L578.2,457.94 L580.2,457.48 L582.2,457.03 L584.2,456.58 L586.2,456.13 L588.2,455.69 L590.2,455.24 L592.2,454.80 L594.2,454.37 L596.2,453.93 L598.2,453.50 L600.2,453.07 L602.2,452.64 L604.2,452.22 L606.2,451.80 L608.2,451.38 L610.2,450.96 L612.2,450.55 L614.2,450.14 L616.2,449.73 L618.2,449.32 L620.2,448.92 L622.2,448.52 L624.2,448.13 L626.2,447.73 L628.2,447.34 L630.2,446.96 L632.2,446.57 L634.2,446.19 L636.2,445.82 L638.2,445.44 L640.2,445.07 L642.2,444.71 L644.2,444.34 L646.2,443.98 L648.2,443.62 L650.2,443.27 L652.2,442.92 L654.2,442.57 L656.2,442.23 L658.2,441.89 L660.2,441.55 L662.2,441.22 L664.2,440.89 L666.2,440.57 L668.2,440.25 L670.2,439.93 L672.2,439.61 L674.2,439.30 L676.2,439.00 L678.2,438.69 L680.2,438.39 L682.2,438.09 L684.2,437.80 L686.2,437.51 L688.2,437.22 L690.2,436.94 L692.2,436.66 L694.2,436.38 L696.2,436.11 L698.2,435.84 L700.2,435.57 L702.2,435.31 L704.2,435.05 L706.2,434.79 L708.2,434.54 L710.2,434.29 L712.2,434.04 L714.2,433.79 L716.2,433.55 L718.2,433.32 L720.2,433.08 L722.2,432.85 L724.2,432.62 L726.2,432.40 L728.2,432.17 L730.2,431.96 L732.2,431.74 L734.2,431.53 L736.2,431.32 L738.2,431.11 L740.2,430.91 L742.2,430.71 L744.2,430.51 L746.2,430.31 L748.2,430.12 L750.2,429.93 L752.2,429.75 L754.2,429.56 L756.2,429.38 L758.2,429.20 L760.2,429.03 L762.2,428.86 L764.2,428.69 L766.2,428.52 L768.2,428.36 L770.2,428.20 L772.2,428.04 L774.2,427.89 L776.2,427.73 L778.2,427.58 L780.2,427.44 L782.2,427.29 L784.2,427.15 L786.2,427.01 L788.2,426.88 L790.2,426.74 L792.2,426.61 L794.2,426.48 L796.2,426.36 L798.2,426.23 L800.2,426.11 L802.2,425.99 L804.2,425.88 L806.2,425.77 L808.2,425.65 L810.2,425.55 L812.2,425.44 L814.2,425.34 L816.2,425.24 L818.2,425.14 L820.2,425.04 L822.2,424.95 L824.2,424.86 L826.2,424.77 L828.2,424.68 L830.2,424.60 L832.2,424.51 L834.2,424.43 L836.2,424.36 L838.2,424.28 L840.2,424.21 L842.2,424.14 L844.2,424.07 L846.2,424.00 L848.2,423.94 L850.2,423.87 L852.2,423.81 L854.2,423.76 L856.2,423.70 L858.2,423.65 L860.2,423.59 L862.2,423.54 L864.2,423.50 L866.2,423.45 L868.2,423.41 L870.2,423.37 L872.2,423.33 L874.2,423.29 L876.2,423.25 L878.2,423.22 L880.2,423.19 L882.2,423.16 L884.2,423.13 L886.2,423.10 L888.2,423.08 L890.2,423.06 L892.2,423.04 L894.2,423.02 L896.2,423.00 L898.2,422.99 L900.2,422.97 L902.2,422.96 L904.2,422.95 L906.2,422.94 L908.2,422.94 L910.2,422.93 L912.2,422.93 L914.2,422.93 L916.2,422.93 L918.2,422.93 L920.2,422.94 L922.2,422.94 L924.2,422.95 L926.2,422.96 L928.2,422.97 L930.2,422.98 L932.2,422.99 L934.2,423.00 L936.2,423.02 L938.2,423.04 L940.2,423.06 L942.2,423.08 L944.2,423.10 L946.2,423.12 L948.2,423.15 L950.2,423.17 L952.2,423.20 L954.2,423.23 L956.2,423.26 L958.2,423.29 L960.2,423.32 L962.2,423.36 L964.2,423.39 L966.2,423.43 L968.2,423.47 L970.2,423.51 L972.2,423.55 L974.2,423.59 L976.2,423.63 L978.2,423.68 L980.2,423.72 L982.2,423.77 L984.2,423.81 L986.2,423.86 L988.2,423.91 L990.2,423.96 L992.2,424.01 L994.2,424.07 L996.2,424.12 L998.2,424.18 L1000.2,424.23 L1002.2,424.29 L1004.2,424.35 L1006.2,424.40 L1008.2,424.46 L1010.2,424.52 L1012.2,424.59 L1014.2,424.65 L1016.2,424.71 L1018.2,424.78 L1020.2,424.84 L1022.2,424.91 L1024.2,424.97 L1026.2,425.04 L1028.2,425.11 L1030.2,425.18 L1032.2,425.25 L1034.2,425.32 L1036.2,425.39 L1038.2,425.46 L1040.2,425.53 L1042.2,425.61 L1044.2,425.68 L1046.2,425.76 L1048.2,425.83 L1050.2,425.91 L1052.2,425.98 L1054.2,426.06 L1056.2,426.14 L1058.2,426.22 L1060.2,426.30 L1062.2,426.38 L1064.2,426.46 L1066.2,426.54 L1068.2,426.62 L1070.2,426.70 L1072.2,426.78 L1074.2,426.86 L1076.2,426.94 L1078.2,427.03 L1080.2,427.11 L1082.2,427.19 L1084.2,427.28 L1086.2,427.36 L1088.2,427.45 L1090.2,427.53 L1092.2,427.62 L1094.2,427.70 L1096.2,427.79 L1098.2,427.88 L1100.2,427.96 L1102.2,428.05 L1104.2,428.14 L1106.2,428.22 L1108.2,428.31 L1110.2,428.40 L1112.2,428.49 L1114.2,428.57 L1116.2,428.66 L1118.2,428.75 L1120.2,428.84 L1122.2,428.92 L1124.2,429.01 L1126.2,429.10 L1128.2,429.19 L1130.2,429.28 L1132.2,429.37 L1134.2,429.45 L1136.2,429.54 L1138.2,429.63 L1140.2,429.72 L1142.2,429.81 L1144.2,429.89 L1146.2,429.98 L1148.2,430.07 L1150.2,430.16 L1152.2,430.24 L1154.2,430.33 L1156.2,430.42 L1158.2,430.50 L1160.2,430.59 L1162.2,430.68 L1164.2,430.76 L1166.2,430.85 L1168.2,430.93 L1170.2,431.02 L1172.2,431.10 L1174.2,431.19 L1176.2,431.27 L1178.2,431.35 L1180.2,431.44 L1182.2,431.52 L1184.2,431.60 L1186.2,431.68 L1188.2,431.77 L1190.2,431.85 L1192.2,431.93 L1194.2,432.01 L1196.2,432.09 L1198.2,432.17 L1200.2,432.25 L1202.2,432.32 L1204.2,432.40 L1206.2,432.48 L1208.2,432.55 L1210.2,432.63 L1212.2,432.71 L1214.2,432.78 L1216.2,432.85 L1218.2,432.93 L1220.2,433.00 L1222.2,433.07 L1224.2,433.14 L1226.2,433.21 L1228.2,433.28 L1230.2,433.35 L1232.2,433.42 L1234.2,433.49 L1236.2,433.55 L1238.2,433.62 L1240.2,433.68 L1242.2,433.75 L1244.2,433.81 L1246.2,433.87 L1248.2,433.93 L1250.2,433.99 L1252.2,434.05 L1254.2,434.11 L1256.2,434.17 L1258.2,434.22 L1260.2,434.28 L1262.2,434.33 L1264.2,434.39 L1266.2,434.44 L1268.2,434.49 L1270.2,434.54 L1272.2,434.59 L1274.2,434.64 L1276.2,434.69 L1278.2,434.73 L1280.2,434.78 L1282.2,434.82 L1284.2,434.86 L1286.2,434.90 L1288.2,434.94 L1290.2,434.98 L1292.2,435.02 L1294.2,435.06 L1296.2,435.09 L1298.2,435.12 L1300.2,435.16 L1302.2,435.19 L1304.2,435.22 L1306.2,435.25 L1308.2,435.27 L1310.2,435.30 L1312.2,435.32 L1314.2,435.35 L1316.2,435.37 L1318.2,435.39 L1320.2,435.41 L1322.2,435.42 L1324.2,435.44 L1326.2,435.45 L1327.5,435.46" stroke="#7E2F8E"/></g><g><line x1="342.5" y1="507.8" x2="385.5" y2="507.8" stroke="#1e0a3a" stroke-width="2.2"/><line x1="342.5" y1="526.8" x2="385.5" y2="526.8" stroke="#3a3a60" stroke-width="2"/><rect x="321.5" y="509" width="84.80000000000001" height="15" fill="#3a10b0"/><line x1="323.5" y1="511.8" x2="404.3" y2="511.8" stroke="#f0b8f0" stroke-width="1.6"/><line x1="323.5" y1="519.8" x2="404.3" y2="519.8" stroke="#f0b8f0" stroke-width="1.6"/><rect x="322.5" y="514" width="82.80000000000001" height="4" fill="#4206c0"/><rect x="322.5" y="510.5" width="82.80000000000001" height="12.0" stroke="#1e0c68" stroke-width="2" fill="none"/><line x1="342.5" y1="550" x2="385.5" y2="550" stroke="#8a8aa0" stroke-width="1.6"/><rect x="321.5" y="554.5" width="84.80000000000001" height="6.7000000000000455" stroke="#2a1060" stroke-width="2" fill="#fff4fb"/><line x1="321.5" y1="554.5" x2="406.3" y2="554.5" stroke="#6a1080" stroke-width="2.6"/><line x1="342.5" y1="563" x2="383.5" y2="563" stroke="#14146a" stroke-width="2.4"/><rect x="491.3" y="463.5" width="86.30000000000001" height="14.300000000000011" fill="#32109a"/><line x1="493.3" y1="466" x2="575.6" y2="466" stroke="#f0c0f0" stroke-width="1.6"/><line x1="493.3" y1="469.9" x2="575.6" y2="469.9" stroke="#f0c0f0" stroke-width="1.6"/><line x1="493.3" y1="473.7" x2="575.6" y2="473.7" stroke="#c080e0" stroke-width="1.4"/><rect x="492.3" y="464.5" width="84.30000000000001" height="12.300000000000011" stroke="#1e0c68" stroke-width="2" fill="none"/><rect x="491.3" y="509.5" width="86.30000000000001" height="3.8999999999999773" stroke="#302070" stroke-width="1.8" fill="#fce8f4"/><line x1="491.3" y1="509.5" x2="577.6" y2="509.5" stroke="#a03040" stroke-width="1.8"/><line x1="513.5" y1="508.6" x2="555" y2="508.6" stroke="#4a0020" stroke-width="2.6"/><line x1="513.5" y1="515.2" x2="555" y2="515.2" stroke="#1a1030" stroke-width="2.4"/><line x1="491.3" y1="613.6" x2="577.6" y2="613.6" stroke="#3a0a50" stroke-width="3"/><rect x="513.5" y="610.8" width="41.5" height="6.400000000000091" fill="#2a0a60"/><rect x="691.3" y="428.8" width="87.10000000000002" height="3.599999999999966" fill="#4a1470"/><line x1="714.2" y1="427.6" x2="755.5" y2="427.6" stroke="#5a2090" stroke-width="2"/><rect x="691.3" y="474.8" width="87.10000000000002" height="5.399999999999977" fill="#5a1070"/><line x1="714.2" y1="481.3" x2="755.5" y2="481.3" stroke="#200818" stroke-width="2.2"/><rect x="691.3" y="548.2" width="87.10000000000002" height="6.399999999999977" stroke="#1e1a5a" stroke-width="2" fill="#ffffff"/><line x1="691.3" y1="554.5" x2="778.4" y2="554.5" stroke="#6a0a70" stroke-width="2.6"/><line x1="714.2" y1="559.6" x2="755.5" y2="559.6" stroke="#1a1a1a" stroke-width="2.2"/><rect x="691.3" y="666" width="87.10000000000002" height="7.600000000000023" stroke="#2a2050" stroke-width="2" fill="#fff6fa"/><line x1="691.3" y1="665.8" x2="778.4" y2="665.8" stroke="#c04060" stroke-width="2"/><line x1="714.2" y1="662.4" x2="755.5" y2="662.4" stroke="#200a10" stroke-width="2.4"/><line x1="876.4" y1="422.7" x2="963.8" y2="422.7" stroke="#4a1a60" stroke-width="2.8"/><rect x="899.3" y="419.5" width="41.200000000000045" height="7.100000000000023" fill="#5a1030"/><line x1="911.3" y1="500.4" x2="940.5" y2="500.4" stroke="#201010" stroke-width="2.2"/><rect x="876.4" y="503.4" width="87.39999999999998" height="3.2000000000000455" fill="#6a1080"/><line x1="899.3" y1="508" x2="940.5" y2="508" stroke="#200820" stroke-width="2.2"/><rect x="876.4" y="587.9" width="87.39999999999998" height="4.600000000000023" fill="#5a10a0"/><line x1="899.3" y1="585.8" x2="940.5" y2="585.8" stroke="#200818" stroke-width="2.2"/><line x1="899.3" y1="594" x2="940.5" y2="594" stroke="#1a1070" stroke-width="2.4"/><rect x="876.4" y="705.9" width="87.39999999999998" height="5.0" fill="#3a1a90"/><rect x="1269.8" y="429" width="57.700000000000045" height="3" fill="#3a1450"/><rect x="1301.7" y="435.6" width="22.59999999999991" height="2.3999999999999773" fill="#b02050"/><line x1="1270.8" y1="538.3" x2="1327.5" y2="538.3" stroke="#2a1030" stroke-width="2.4"/><rect x="1273" y="534.2" width="30.40000000000009" height="3.199999999999932" fill="#d06040"/><rect x="1269.8" y="625.5" width="57.700000000000045" height="3.3999999999999773" fill="#5a1050"/><rect x="1269.8" y="738.4" width="57.700000000000045" height="3.2000000000000455" fill="#3a2a3a"/><line x1="1314.2" y1="427.3" x2="1314.2" y2="447.6" stroke="#b0204a" stroke-width="2"/><line x1="1314.2" y1="728.8" x2="1314.2" y2="749.6" stroke="#5a2a3a" stroke-width="2"/><line x1="1304" y1="739.6" x2="1324.4" y2="739.6" stroke="#7a1a30" stroke-width="2"/></g><g stroke="#3a3a3a" stroke-width="2"><line x1="289.57" y1="1025.50" x2="289.57" y2="1013.00"/><line x1="289.57" y1="162.50" x2="289.57" y2="175.00"/><line x1="438.03" y1="1025.50" x2="438.03" y2="1013.00"/><line x1="438.03" y1="162.50" x2="438.03" y2="175.00"/><line x1="586.48" y1="1025.50" x2="586.48" y2="1013.00"/><line x1="586.48" y1="162.50" x2="586.48" y2="175.00"/><line x1="734.93" y1="1025.50" x2="734.93" y2="1013.00"/><line x1="734.93" y1="162.50" x2="734.93" y2="175.00"/><line x1="883.39" y1="1025.50" x2="883.39" y2="1013.00"/><line x1="883.39" y1="162.50" x2="883.39" y2="175.00"/><line x1="1031.85" y1="1025.50" x2="1031.85" y2="1013.00"/><line x1="1031.85" y1="162.50" x2="1031.85" y2="175.00"/><line x1="1180.30" y1="1025.50" x2="1180.30" y2="1013.00"/><line x1="1180.30" y1="162.50" x2="1180.30" y2="175.00"/><line x1="142.20" y1="853.52" x2="154.70" y2="853.52"/><line x1="1327.50" y1="853.52" x2="1315.00" y2="853.52"/><line x1="142.20" y1="680.49" x2="154.70" y2="680.49"/><line x1="1327.50" y1="680.49" x2="1315.00" y2="680.49"/><line x1="142.20" y1="507.46" x2="154.70" y2="507.46"/><line x1="1327.50" y1="507.46" x2="1315.00" y2="507.46"/><line x1="142.20" y1="334.43" x2="154.70" y2="334.43"/><line x1="1327.50" y1="334.43" x2="1315.00" y2="334.43"/></g><rect x="142.20" y="162.50" width="1185.30" height="863.00" fill="none" stroke="#3a3a3a" stroke-width="2.1"/><g font-family='"Liberation Sans", sans-serif' font-size="40" fill="#262626"><text x="141.11" y="1081.5" text-anchor="middle">5</text><text x="289.57" y="1081.5" text-anchor="middle">10</text><text x="438.03" y="1081.5" text-anchor="middle">15</text><text x="586.48" y="1081.5" text-anchor="middle">20</text><text x="734.93" y="1081.5" text-anchor="middle">25</text><text x="883.39" y="1081.5" text-anchor="middle">30</text><text x="1031.85" y="1081.5" text-anchor="middle">35</text><text x="1180.30" y="1081.5" text-anchor="middle">40</text><text x="1328.76" y="1081.5" text-anchor="middle">45</text><text x="126.3" y="1041.50" text-anchor="end">0</text><text x="126.3" y="868.90" text-anchor="end">0.1</text><text x="126.3" y="696.30" text-anchor="end">0.2</text><text x="126.3" y="523.70" text-anchor="end">0.3</text><text x="126.3" y="351.10" text-anchor="end">0.4</text><text x="126.3" y="178.50" text-anchor="end">0.5</text></g><text x="734.9" y="1134.5" text-anchor="middle" font-family='"Liberation Sans", sans-serif' font-size="40" fill="#262626">speed [m/s]</text><text transform="translate(49.7,593.4) rotate(-90)" x="0" y="0" text-anchor="middle" font-family='"Liberation Sans", sans-serif' font-size="40.2" fill="#262626">Energy efficiency gain ε</text><g font-family='"Liberation Sans", sans-serif' font-size="40.15" font-weight="bold" fill="#000" text-anchor="middle"><text x="729.2" y="52.4">Global energy efficiency gain for various</text><text x="735.4" y="102.2">top speed and storage power</text><text x="734.9" y="152.5">Gradient: 1%</text></g><g font-family='"Liberation Sans", sans-serif' fill="#000"><rect x="157.4" y="720.2" width="398.8" height="284.2" fill="#ffffff" stroke="#383838" stroke-width="1.6"/><line x1="168" y1="759.9" x2="277" y2="759.9" stroke="#0072BD" stroke-width="1.6"/><text x="285.5" y="766.9" font-size="40">P</text><text x="313" y="785.8" font-size="31">FESS</text><text x="408.2" y="766.9" font-size="40">1 MW</text><line x1="168" y1="828.7" x2="277" y2="828.7" stroke="#D95319" stroke-width="1.6"/><text x="285.5" y="835.7" font-size="40">P</text><text x="313" y="854.6" font-size="31">FESS</text><text x="408.2" y="835.7" font-size="40">1.5 MW</text><line x1="168" y1="897.5" x2="277" y2="897.5" stroke="#EDB120" stroke-width="1.6"/><text x="285.5" y="904.5" font-size="40">P</text><text x="313" y="923.4" font-size="31">FESS</text><text x="408.2" y="904.5" font-size="40">2 MW</text><line x1="168" y1="966.3" x2="277" y2="966.3" stroke="#7E2F8E" stroke-width="1.6"/><text x="285.5" y="973.3" font-size="40">P</text><text x="313" y="992.2" font-size="31">FESS</text><text x="408.2" y="973.3" font-size="40">2.8 MW</text></g></svg>
</body></html>
